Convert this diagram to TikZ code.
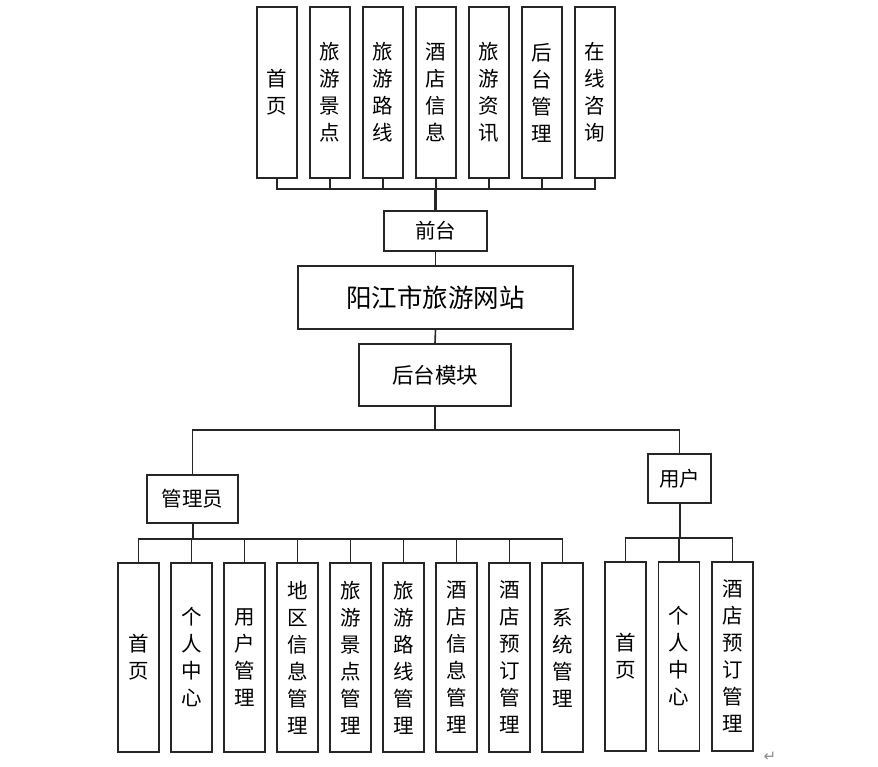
\documentclass[tikz,border=0pt]{standalone}
\usepackage{fontspec}
\setmainfont{Noto Sans CJK SC}
\newfontfamily\symfont{DejaVu Sans}
\begin{document}
\begin{tikzpicture}[x=1pt,y=-1pt,
  box/.style={draw=black!85,line width=1.6pt,inner sep=0pt,align=center,fill=white},
  vbox/.style={box,minimum width=40pt,minimum height=171pt,font=\fontsize{20.5}{27}\selectfont},
  lbox/.style={box,minimum width=41pt,minimum height=189pt,font=\fontsize{20.5}{27}\selectfont},
  conn/.style={draw=black!85,line width=1.6pt},
  trunk/.style={draw=black!85,line width=2.6pt}]
\useasboundingbox[fill=white] (0,0) rectangle (878,767);
% top row
\node[vbox] (t1) at (277,92.5) {首\\页};
\node[vbox] (t2) at (330,92.5) {旅\\游\\景\\点};
\node[vbox] (t3) at (383,92.5) {旅\\游\\路\\线};
\node[vbox] (t4) at (436,92.5) {酒\\店\\信\\息};
\node[vbox] (t5) at (489,92.5) {旅\\游\\资\\讯};
\node[vbox] (t6) at (542,92.5) {后\\台\\管\\理};
\node[vbox] (t7) at (595,92.5) {在\\线\\咨\\询};
% middle
\node[box,minimum width=103pt,minimum height=40pt,font=\fontsize{20.5}{24}\selectfont] (qt) at (435.5,231) {前台};
\node[box,minimum width=275pt,minimum height=63pt,font=\fontsize{25.5}{30}\selectfont] (main) at (435.5,297.5) {阳江市旅游网站};
\node[box,minimum width=152pt,minimum height=62pt,font=\fontsize{21.5}{25}\selectfont] (bk) at (435,375) {后台模块};
\node[box,minimum width=91pt,minimum height=48pt,font=\fontsize{20.5}{24}\selectfont] (gly) at (192.5,499) {管理员};
\node[box,minimum width=63pt,minimum height=49pt,font=\fontsize{20.5}{24}\selectfont] (yh) at (679.5,478.5) {用户};
% admin row
\node[lbox] (a1) at (138.5,657.5) {首\\页};
\node[lbox] (a2) at (191.5,657.5) {个\\人\\中\\心};
\node[lbox] (a3) at (244.5,657.5) {用\\户\\管\\理};
\node[lbox] (a4) at (297.5,657.5) {地\\区\\信\\息\\管\\理};
\node[lbox] (a5) at (350.5,657.5) {旅\\游\\景\\点\\管\\理};
\node[lbox] (a6) at (403.5,657.5) {旅\\游\\路\\线\\管\\理};
\node[lbox] (a7) at (456.5,657.5) {酒\\店\\信\\息\\管\\理};
\node[lbox] (a8) at (509.5,657.5) {酒\\店\\预\\订\\管\\理};
\node[lbox] (a9) at (562.5,657.5) {系\\统\\管\\理};
% user row
\node[lbox] (u1) at (625.5,656.5) {首\\页};
\node[lbox] (u2) at (679,656.5) {个\\人\\中\\心};
\node[lbox] (u3) at (732.5,656.5) {酒\\店\\预\\订\\管\\理};
% connectors top
\coordinate (tb) at (435.5,189);
\foreach \i in {1,...,7}{\draw[conn] (t\i.south) |- (tb);}
\draw[trunk] (tb) -- (qt.north);
\draw[conn] (qt.south) -- (main.north);
\draw[conn] (main.south) -- (bk.north);
\coordinate (mb) at (435,430);
\draw[conn] (bk.south) -- (mb);
\draw[conn] (mb) -| (gly.north);
\draw[conn] (mb) -| (yh.north);
\coordinate (ab) at (192.5,539);
\draw[trunk,line width=2pt] (gly.south) -- (ab);
\foreach \i in {1,...,9}{\draw[conn] (a\i.north) |- (ab);}
\coordinate (ub) at (679.5,538);
\draw[trunk,line width=2pt] (yh.south) -- (ub);
\foreach \i in {1,2,3}{\draw[conn] (u\i.north) |- (ub);}
\node[font=\symfont\fontsize{15}{18}\selectfont,text=black!45] (ret) at (770,757) {↵};
\end{tikzpicture}
\end{document}
